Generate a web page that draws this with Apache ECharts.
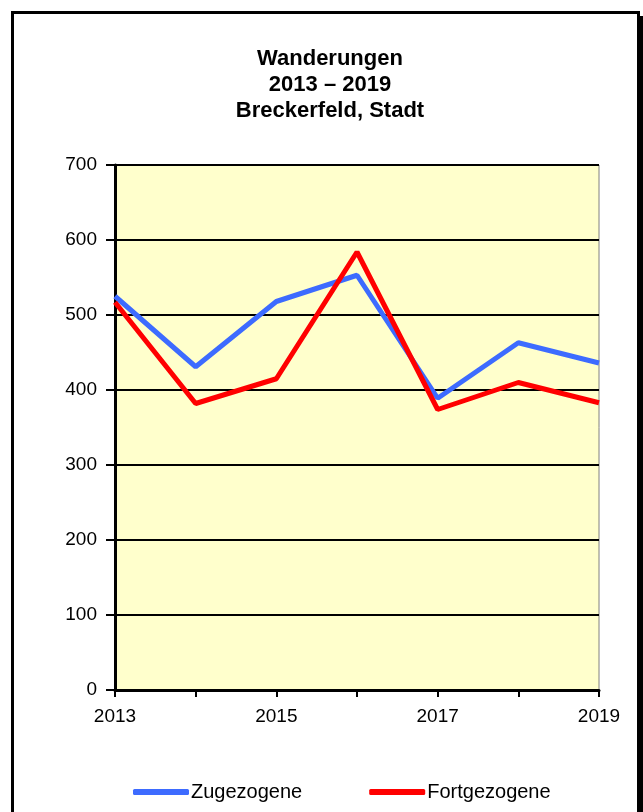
<!DOCTYPE html>
<html>
<head>
<meta charset="utf-8">
<script src="https://cdn.jsdelivr.net/npm/echarts@6/dist/echarts.min.js"></script>
<style>
html,body{margin:0;padding:0;background:#fff;}
#chart{width:643px;height:812px;}
</style>
</head>
<body>
<div id="chart"></div>
<script>
const years = ['2013','2014','2015','2016','2017','2018','2019'];
const zugezogene = [525, 431, 518, 553, 389, 463, 436];
const fortgezogene = [517, 382, 415, 584, 374, 410, 383];
const titleLines = ['Wanderungen', '2013 – 2019', 'Breckerfeld, Stadt'];
const FONT = '"Liberation Sans", Arial, sans-serif';

const chart = echarts.init(document.getElementById('chart'), null, {renderer: 'canvas'});
chart.setOption({
  backgroundColor: '#ffffff',
  animation: false,
  title: {
    text: titleLines.join('\n'),
    left: 325, top: 41, textAlign: 'center',
    textStyle: {fontFamily: FONT, fontWeight: 'bold', fontSize: 22, lineHeight: 26, color: '#000'}
  },
  graphic: [
    {type: 'rect', shape: {x: 638, y: 16, width: 5, height: 800}, style: {fill: '#000'}, z: 0},
    {type: 'rect', shape: {x: 12.5, y: 12.5, width: 626, height: 820}, style: {fill: 'none', stroke: '#000', lineWidth: 3}, z: 0}
  ],
  legend: {
    top: 777, left: 128,
    itemGap: 67, itemWidth: 56, itemHeight: 6,
    icon: 'roundRect',
    textStyle: {fontFamily: FONT, fontSize: 20, color: '#000', padding: [0, 0, 0, -3]},
    data: ['Zugezogene', 'Fortgezogene']
  },
  grid: {left: 115, top: 165, width: 484, height: 525, show: true, backgroundColor: '#FFFFCC', borderColor: '#808080', borderWidth: 1},
  xAxis: {
    type: 'category', data: years, boundaryGap: false,
    axisLine: {lineStyle: {color: '#000', width: 3}},
    axisTick: {show: true, interval: 0, length: 7, lineStyle: {color: '#000', width: 2}},
    axisLabel: {interval: 1, fontFamily: FONT, fontSize: 19, color: '#000', margin: 17}
  },
  yAxis: {
    type: 'value', min: 0, max: 700, interval: 100,
    axisLine: {show: true, lineStyle: {color: '#000', width: 3}},
    axisTick: {show: true, length: 9, lineStyle: {color: '#000', width: 2}},
    axisLabel: {fontFamily: FONT, fontSize: 19, color: '#000', margin: 18},
    splitLine: {lineStyle: {color: '#000', width: 2}}
  },
  series: [
    {name: 'Zugezogene', type: 'line', data: zugezogene, symbol: 'none', lineStyle: {color: '#3D6BFF', width: 5}, itemStyle: {color: '#3D6BFF'}, z: 3},
    {name: 'Fortgezogene', type: 'line', data: fortgezogene, symbol: 'none', lineStyle: {color: '#FF0000', width: 5}, itemStyle: {color: '#FF0000'}, z: 4}
  ]
});
</script>
</body>
</html>
